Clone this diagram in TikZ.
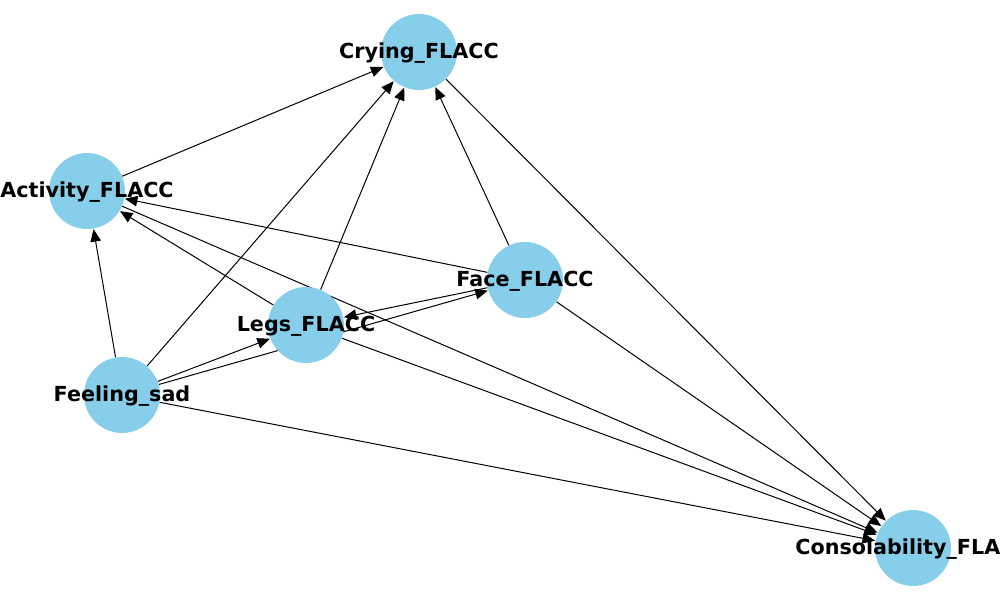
\documentclass[tikz,border=0pt]{standalone}
\usepackage{fontspec}
\setmainfont{DejaVu Sans}
\usetikzlibrary{arrows.meta}
\pgfdeclarelayer{background}
\pgfsetlayers{background,main}
\definecolor{skyblue}{HTML}{87CEEB}
\begin{document}
\begin{tikzpicture}[x=0.72pt,y=-0.72pt,
  vnode/.style={circle,fill=skyblue,draw=none,minimum size=54.7pt,inner sep=0pt},
  vlabel/.style={font=\bfseries\fontsize{14.9pt}{17pt}\selectfont,inner sep=0pt,yshift=-1.1pt},
  edge/.style={line width=0.72pt,-{Triangle[length=9pt,width=7.6pt]},shorten >=0.3pt}]
\useasboundingbox (0,0) rectangle (1000,600);
\clip (0,0) rectangle (1000,600);
\node[vnode] (cry) at (419,52) {};
\node[vnode] (act) at (87,191) {};
\node[vnode] (face) at (525,280) {};
\node[vnode] (legs) at (306,325) {};
\node[vnode] (sad) at (122,395) {};
\node[vnode] (con) at (913,548) {};
\begin{pgfonlayer}{background}
\draw[edge] (act) -- (cry);
\draw[edge] (act) -- (con);
\draw[edge] (sad) -- (act);
\draw[edge] (sad) -- (cry);
\draw[edge] (sad) -- (legs);
\draw[edge] (sad) -- (face);
\draw[edge] (sad) -- (con);
\draw[edge] (legs) -- (cry);
\draw[edge] (legs) -- (act);
\draw[edge] (legs) -- (con);
\draw[edge] (face) -- (cry);
\draw[edge] (face) -- (act);
\draw[edge] (face) -- (legs);
\draw[edge] (face) -- (con);
\draw[edge] (cry) -- (con);
\end{pgfonlayer}
\node[vlabel] (lcry) at (419,52) {Crying\_FLACC};
\node[vlabel] (lact) at (87,191) {Activity\_FLACC};
\node[vlabel] (lface) at (525,280) {Face\_FLACC};
\node[vlabel] (llegs) at (306,325) {Legs\_FLACC};
\node[vlabel] (lsad) at (122,395) {Feeling\_sad};
\node[vlabel] (lcon) at (913,548) {Consolability\_FLACC};
\end{tikzpicture}
\end{document}
